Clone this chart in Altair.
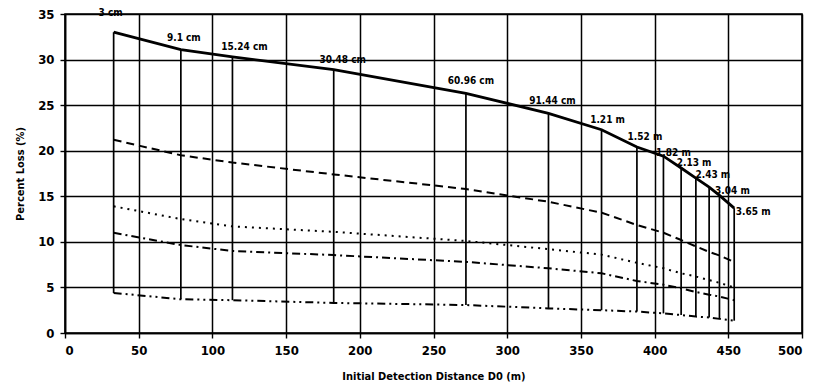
import altair as alt
import pandas as pd

# Initial detection distances (m) for each size
dist = [33, 78.6, 113.6, 182.3, 272, 328, 364, 388, 406, 418, 428, 437, 444, 454]
labels = ["3 cm", "9.1 cm", "15.24 cm", "30.48 cm", "60.96 cm", "91.44 cm", "1.21 m",
          "1.52 m", "1.82 m", "2.13 m", "2.43 m", "", "3.04 m", "3.65 m"]

# Percent loss curves
solid = [33.0, 31.1, 30.3, 28.9, 26.3, 24.1, 22.3, 20.4, 19.4, 18.1, 17.0, 16.0, 15.1, 13.7]
dashed = [21.2, 19.5, 18.7, 17.4, 15.8, 14.4, 13.2, 11.85, 11.0, 10.2, 9.5, 8.9, 8.5, 7.8]
dotted = [13.9, 12.5, 11.7, 11.1, 10.1, 9.2, 8.6, 7.7, 7.1, 6.55, 6.2, 5.8, 5.5, 5.0]
dashdot = [11.0, 9.65, 9.0, 8.55, 7.8, 7.1, 6.55, 5.7, 5.3, 4.9, 4.5, 4.2, 4.0, 3.6]
dashdotdot = [4.4, 3.7, 3.6, 3.3, 3.07, 2.7, 2.5, 2.35, 2.15, 1.97, 1.8, 1.7, 1.55, 1.35]

# label offsets (px) relative to the top point
label_dx = [-3, 3, 12, 9, 5, 4, 6, 8, 10, 13, 17, 0, 13, 19]
label_dy = [-19, -12, -10, -10, -12, -12, -10, -10, -3, -5, -3, 0, -4, 4]

FONT = "Liberation Sans Narrow, DejaVu Sans Condensed, Arial, sans-serif"

df = pd.DataFrame({"d": dist, "label": labels, "top": solid, "bottom": dashdotdot})

series = {"s1": (dashed, [8, 5]), "s2": (dotted, [2, 5]), "s3": (dashdot, [8, 4, 2, 4]),
          "s4": (dashdotdot, [8, 4, 2, 4, 2, 4])}

xs = alt.Scale(domain=[0, 500], nice=False)
ys = alt.Scale(domain=[0, 35], nice=False)

xenc = alt.X("d:Q", scale=xs,
             axis=alt.Axis(values=list(range(0, 501, 50)), title="Initial Detection Distance D0 (m)"))
yenc_axis = alt.Axis(values=list(range(0, 36, 5)), title="Percent Loss (%)")

base = alt.Chart(df)

rules = base.mark_rule(color="black", strokeWidth=1.7).encode(
    x=xenc, y=alt.Y("bottom:Q", scale=ys, axis=yenc_axis), y2="top:Q")

top_line = base.mark_line(color="black", strokeWidth=2.8).encode(x="d:Q", y="top:Q")

layers = [rules, top_line]
for name, (vals, dash) in series.items():
    sdf = pd.DataFrame({"d": dist, "v": vals})
    layers.append(alt.Chart(sdf).mark_line(color="black", strokeWidth=2, strokeDash=dash)
                  .encode(x="d:Q", y="v:Q"))

for i in range(len(dist)):
    if labels[i]:
        layers.append(alt.Chart(df.iloc[[i]]).mark_text(
            dx=label_dx[i], dy=label_dy[i], font=FONT, fontWeight="bold", fontSize=10,
            color="black").encode(x="d:Q", y="top:Q", text="label:N"))

chart = alt.layer(*layers).properties(
    width=737, height=319,
    autosize=alt.AutoSizeParams(type="none"),
    padding={"left": 57, "top": 6, "right": 6, "bottom": 50},
).configure_view(stroke="black", strokeWidth=1.6).configure_axis(
    grid=True, gridColor="black", gridWidth=1.5, gridOpacity=1,
    domainColor="black", domainWidth=1.6, tickColor="black", tickSize=5, tickWidth=1.4,
    labelFont=FONT, labelFontWeight="bold", labelFontSize=13, labelColor="black",
    labelPadding=6, titleFont=FONT, titleFontWeight="bold", titleFontSize=11,
    titleColor="black",
).configure_axisX(titlePadding=13).configure_axisY(titlePadding=12)

chart.save("out.html", embed_options={"renderer": "svg", "actions": False})
